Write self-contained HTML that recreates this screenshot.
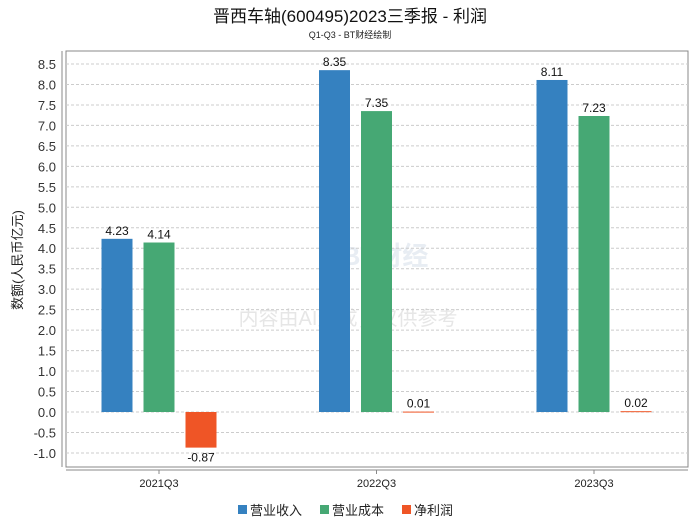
<!DOCTYPE html>
<html><head><meta charset="utf-8"><style>
body{margin:0;background:#fff;}
svg text{font-family:"Liberation Sans","Noto Sans CJK SC",sans-serif;}
</style></head><body>
<svg id="c" width="700" height="524" xmlns="http://www.w3.org/2000/svg">
<text x="350" y="22" text-anchor="middle" font-size="17" fill="#111">晋西车轴(600495)2023三季报 - 利润</text>
<text x="350" y="38" text-anchor="middle" font-size="9" fill="#222">Q1-Q3 - BT财经绘制</text>
<text x="348" y="325" text-anchor="middle" font-size="20" fill="#e6e6e6">内容由AI生成，仅供参考</text>
<text x="385" y="265" text-anchor="middle" font-size="26" fill="#e8edf3" font-weight="bold">BT财经</text>
<rect x="66" y="51" width="622" height="416" fill="none" stroke="#888"/>
<line x1="62" y1="51" x2="62" y2="467" stroke="#888"/>
<line x1="66" y1="470" x2="688" y2="470" stroke="#888"/>
<g id="grid"></g><g id="bars"></g><g id="labels"></g>
<text transform="translate(22,260) rotate(-90)" text-anchor="middle" font-size="13" fill="#222">数额(人民币亿元)</text>
<g>
<rect x="238" y="505" width="9" height="9" fill="#3581c0"/>
<text x="250" y="515" font-size="13" fill="#222">营业收入</text>
<rect x="320" y="505" width="9" height="9" fill="#46a874"/>
<text x="332" y="515" font-size="13" fill="#222">营业成本</text>
<rect x="402" y="505" width="9" height="9" fill="#ef5526"/>
<text x="414" y="515" font-size="13" fill="#222">净利润</text>
</g>
</svg>
<script>
const categories=["2021Q3","2022Q3","2023Q3"];
const revenue=[4.23,8.35,8.11];
const cost=[4.14,7.35,7.23];
const profit=[-0.87,0.01,0.02];
const ticks=[-1.0,-0.5,0.0,0.5,1.0,1.5,2.0,2.5,3.0,3.5,4.0,4.5,5.0,5.5,6.0,6.5,7.0,7.5,8.0,8.5];
const NS="http://www.w3.org/2000/svg";
function y(v){return 412-v*40.94;}
function xc(i){return 159+i*217.5;}
function mk(t,a,p){const e=document.createElementNS(NS,t);for(const k in a)e.setAttribute(k,a[k]);p.appendChild(e);return e;}
const grid=document.getElementById('grid'),bars=document.getElementById('bars'),labels=document.getElementById('labels');
ticks.forEach(t=>{
 const l=mk('line',{x1:66,x2:688,y1:y(t),y2:y(t),stroke:'#ccc','stroke-dasharray':'3,2'},grid);
 
 
 const tx=mk('text',{x:56,y:y(t)+5,'text-anchor':'end','font-size':13,fill:'#333'},grid);
 tx.textContent=t.toFixed(1);
 
 
});
const series=[[revenue,'#3581c0',-42,'revenue'],[cost,'#46a874',0,'cost'],[profit,'#ef5526',42,'profit']];
categories.forEach((c,i)=>{
 const t=mk('text',{x:xc(i),y:487,'text-anchor':'middle','font-size':11,fill:'#222'},labels);
 t.textContent=c;
 
 
 const tk=mk('line',{x1:xc(i),x2:xc(i),y1:470,y2:474,stroke:'#888'},labels);
 
 
 series.forEach(([arr,col,off,nm])=>{
  const v=arr[i],cx=xc(i)+off;
  const top=Math.min(y(v),y(0)),h=Math.max(Math.abs(y(v)-y(0)),1);
  const r=mk('rect',{x:cx-15.5,y:top,width:31,height:h,fill:col},bars);
  
  
  const ly=v>=0?y(v)-4:y(v)+14;
  const lt=mk('text',{x:cx,y:ly,'text-anchor':'middle','font-size':12,fill:'#111'},labels);
  lt.textContent=v.toFixed(2);
  
  
 });
});
</script>
</body></html>
